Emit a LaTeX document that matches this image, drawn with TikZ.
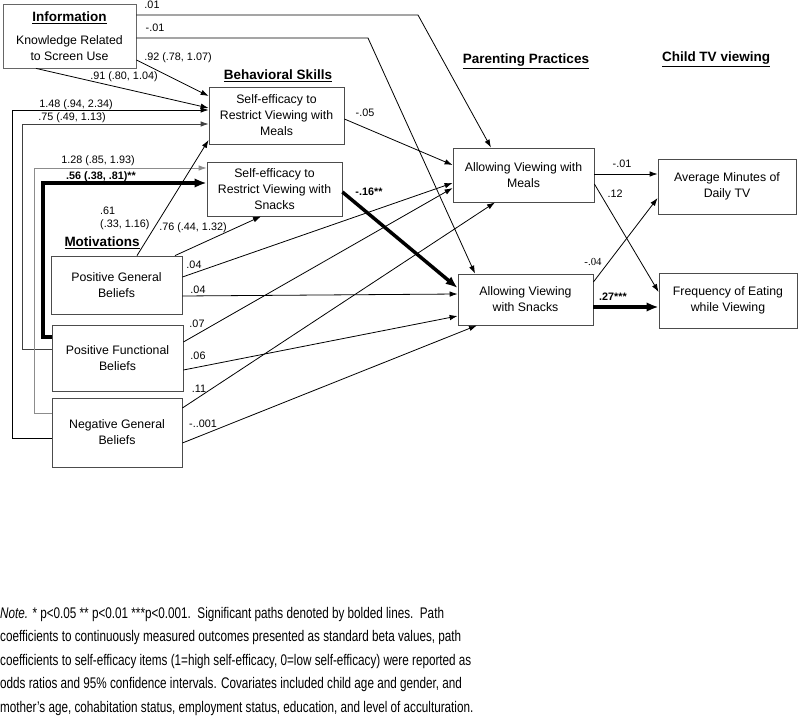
\documentclass[tikz,border=0pt]{standalone}
\usepackage{fontspec}
\setmainfont{Liberation Sans}
\newfontfamily\notefont[FakeStretch=0.76]{Liberation Sans}
\newfontfamily\timesfont{Liberation Serif}
\usetikzlibrary{arrows.meta}

\tikzset{
  varbox/.style={draw=black!70, line width=0.8pt, align=center, inner sep=0pt,
    font=\fontsize{12.3}{16}\selectfont},
  heading/.style={font=\fontsize{13.5}{16}\selectfont\bfseries},
  coef/.style={inner sep=0pt, font=\fontsize{10.8}{13}\selectfont},
  link/.style={-{Latex[length=8pt,width=5.5pt]}, line width=0.8pt},
  siglink/.style={-{Latex[length=12pt,width=9.5pt]}, line width=3.5pt},
}

\begin{document}
\begin{tikzpicture}[x=1pt,y=-1pt]
\useasboundingbox (0,0) rectangle (800,717);

\node[varbox, draw=black!60, minimum width=133pt, minimum height=64pt] (info) at (69.5,36)
  {{\fontsize{13.5}{16}\selectfont\bfseries\underline{Information}}\\[7pt]Knowledge Related\\to Screen Use};
\node[varbox, minimum width=135pt, minimum height=57pt] (semeal) at (276.5,115.5)
  {Self-efficacy to\\Restrict Viewing with\\Meals};
\node[varbox, minimum width=135pt, minimum height=54pt] (sesnack) at (274.5,189)
  {Self-efficacy to\\Restrict Viewing with\\Snacks};
\node[varbox, minimum width=141pt, minimum height=54pt] (avm) at (523.5,175)
  {Allowing Viewing with\\Meals};
\node[varbox, minimum width=135pt, minimum height=51pt] (avs) at (525.5,299.5)
  {Allowing Viewing\\with Snacks};
\node[varbox, minimum width=138pt, minimum height=55pt] (avg) at (727,186.5)
  {Average Minutes of\\Daily TV};
\node[varbox, minimum width=138pt, minimum height=55pt] (freq) at (728,300.5)
  {Frequency of Eating\\while Viewing};
\node[varbox, minimum width=131pt, minimum height=58pt] (pgb) at (116.5,285)
  {Positive General\\Beliefs};
\node[varbox, minimum width=131pt, minimum height=66pt] (pfb) at (117.5,358)
  {Positive Functional\\Beliefs};
\node[varbox, minimum width=130pt, minimum height=69pt] (ngb) at (117,432.5)
  {Negative General\\Beliefs};

\node[heading] (hskills) at (278,76) {\underline{Behavioral Skills}};
\node[heading] (hparent) at (526,61) {\underline{Parenting Practices}};
\node[heading] (hchild) at (716,59) {\underline{Child TV viewing}};
\node[heading] (hmotiv) at (102,243) {\underline{Motivations}};

\draw[link] (info.east |- 0,15) -- (418,15) -- (491,0 |- avm.north);
\draw[link] (info.east |- 0,38) -- (368,38) -- (475,0 |- avs.north);
\draw[link] (info.east |- 0,60) -- (semeal.west |- 0,96);
\draw[link] (36,0 |- info.south) -- (semeal.west |- 0,108);
\draw[link] (ngb.west |- 0,438) -- (12,438) -- (12,110) -- (semeal.west |- 0,110);
\draw[link, black!75] (pfb.west |- 0,349) -- (22,349) -- (22,124) -- (semeal.west |- 0,124);
\draw[link, black!45] (ngb.west |- 0,413) -- (34,413) -- (34,168) -- (sesnack.west |- 0,168);
\draw[siglink] (pfb.west |- 0,337) -- (43,337) -- (43,183) -- (sesnack.west |- 0,183);
\draw[link] (137,0 |- pgb.north) -- (semeal.west |- 0,140);
\draw[link] (175,0 |- pgb.north) -- (261,0 |- sesnack.south);
\draw[link] (pgb.east |- 0,277) -- (avm.west |- 0,183);
\draw[link] (pgb.east |- 0,296) -- (avs.west |- 0,294);
\draw[link] (pfb.east |- 0,342) -- (avm.west |- 0,188);
\draw[link] (pfb.east |- 0,370) -- (avs.west |- 0,316);
\draw[link] (ngb.east |- 0,408) -- (495,0 |- avm.south);
\draw[link] (ngb.east |- 0,443) -- (477,0 |- avs.south);
\draw[link] (semeal.east |- 0,119) -- (avm.west |- 0,165);
\draw[siglink] (sesnack.east |- 0,192) -- (avs.west |- 0,288);
\draw[link] (avm.east |- 0,174) -- (avg.west |- 0,174);
\draw[link] (avm.east |- 0,184) -- (freq.west |- 0,292);
\draw[link] (avs.east |- 0,282) -- (avg.west |- 0,198);
\draw[siglink] (avs.east |- 0,307) -- (freq.west |- 0,307);

\node[coef] (c01) at (152,5) {.01};
\node[coef] (c02) at (155,28) {-.01};
\node[coef] (c03) at (178,58) {.92 (.78, 1.07)};
\node[coef] (c04) at (124,77) {.91 (.80, 1.04)};
\node[coef] (c05) at (76,105) {1.48 (.94, 2.34)};
\node[coef] (c06) at (72,118) {.75 (.49, 1.13)};
\node[coef] (c07) at (98,161) {1.28 (.85, 1.93)};
\node[coef, font=\fontsize{10.8}{13}\selectfont\bfseries] (c08) at (101,177) {.56 (.38, .81)**};
\node[coef, anchor=west, align=left] (c09) at (100,218.5) {.61\\(.33, 1.16)};
\node[coef] (c10) at (193,228) {.76 (.44, 1.32)};
\node[coef] (c11) at (194,265) {.04};
\node[coef] (c12) at (198,290) {.04};
\node[coef] (c13) at (197,324) {.07};
\node[coef] (c14) at (198,356) {.06};
\node[coef] (c15) at (199,389) {.11};
\node[coef] (c16) at (203,424) {-..001};
\node[coef] (c17) at (365,113) {-.05};
\node[coef, font=\fontsize{10.8}{13}\selectfont\bfseries] (c18) at (369,192) {-.16**};
\node[coef] (c19) at (622,164) {-.01};
\node[coef] (c20) at (615,194) {.12};
\node[coef, font=\fontsize{10.8}{13}\selectfont\timesfont] (c21) at (593,262) {-.04};
\node[coef, font=\fontsize{10.8}{13}\selectfont\bfseries] (c22) at (613,297) {.27***};

\node[anchor=north west, align=left, inner sep=0pt,
  font=\notefont\fontsize{15.4}{23.5}\selectfont] (note) at (0,607)
  {\textit{Note.} * p<0.05 ** p<0.01 ***p<0.001.\ \ Significant paths denoted by bolded lines.\ \ Path\\
   coefficients to continuously measured outcomes presented as standard beta values, path\\
   coefficients to self-efficacy items (1=high self-efficacy, 0=low self-efficacy) were reported as\\
   odds ratios and 95\% confidence intervals. Covariates included child age and gender, and\\
   mother’s age, cohabitation status, employment status, education, and level of acculturation.};
\end{tikzpicture}
\end{document}
